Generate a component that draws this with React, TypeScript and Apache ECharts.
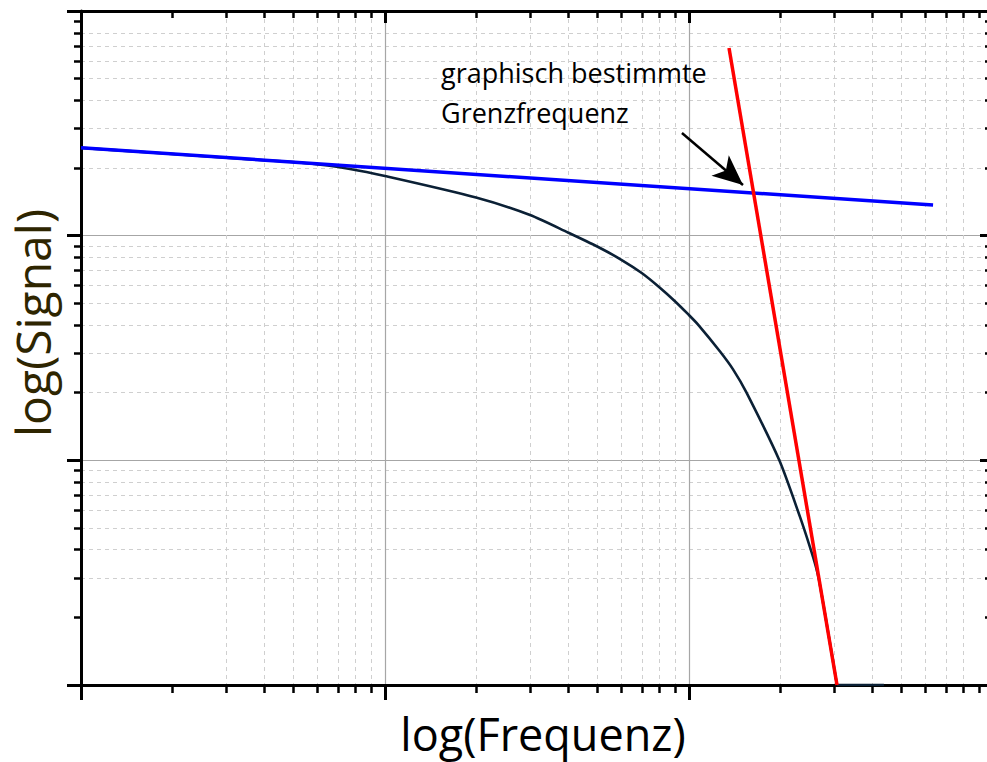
import React, { useEffect, useRef } from "react";
import * as echarts from "echarts";

// Data (log-log)
const curveFreq = [1, 1.69, 3.09, 5.67, 7.67, 10, 19.92, 30, 40, 49.9, 59.9, 69.9, 79.7, 89.7, 99.5, 107.1, 126.5, 139.6, 154.6, 198.2, 231.8, 250, 261.7, 267.7, 282.3, 306.8];
const curveSignal = [246, 234.5, 221.8, 209.5, 198, 184.3, 147.9, 123.6, 103.3, 89.5, 78.1, 68.2, 59.1, 51.2, 44.6, 40.2, 30.5, 25.4, 20, 10, 5.6, 4.11, 3.35, 2.93, 1.95, 1.0];

// part of the curve lying on the lower axis limit
const floorFreq = [306.8, 437.7];
const floorSignal = [1.0, 1.0];

const asymptoteFreq = [1, 635];
const asymptoteSignal = [246, 136.8];

const slopeFreq = [135.4, 306.8];
const slopeSignal = [683.9, 1];

const arrowStart = [94.8, 286.4];
const arrowEnd = [150.5, 168.1];

const annotationLines = ["graphisch bestimmte", "Grenzfrequenz"];
const xTitle = "log(Frequenz)";
const yTitle = "log(Signal)";

const axisMin = 1;
const axisMax = 1000;
const decades = [1, 10, 100];
const minorMultipliers = [2, 3, 4, 5, 6, 7, 8, 9];
const majorTicks = [1, 10, 100, 1000];
const minorTicks = decades.flatMap((d) => minorMultipliers.map((m) => m * d));

const FONT = "'Open Sans', 'Noto Sans', sans-serif";
const CURVE_COLOR = "#0b2035";

function makeAxis(position: string, major: boolean, inside: boolean, len: number, withGrid: boolean) {
  return {
    type: "log",
    logBase: 10,
    min: axisMin,
    max: axisMax,
    position,
    axisLabel: { show: false },
    axisLine: { show: major, onZero: false, lineStyle: { color: "#000", width: 3 } },
    axisTick: {
      show: true,
      inside,
      length: len,
      customValues: major ? majorTicks : minorTicks,
      lineStyle: { color: "#000", width: major ? 3 : 2.5 },
    },
    minorTick: { show: false },
    splitLine: withGrid
      ? {
          show: true,
          showMinLine: false,
          showMaxLine: false,
          lineStyle: major
            ? { color: "#a6a6a6", width: 1.2, type: "solid" }
            : { color: "#cfcfcf", width: 1, type: [4, 4] },
        }
      : { show: false },
  };
}

export default function App() {
  const ref = useRef<HTMLDivElement>(null);
  useEffect(() => {
    if (!ref.current) return;
    const chart = echarts.init(ref.current, null, { renderer: "svg" });
    const zip = (a: number[], b: number[]) => a.map((v, i) => [v, b[i]]);
    const xBottomMajor: any = makeAxis("bottom", true, false, 15, true);
    xBottomMajor.name = xTitle;
    xBottomMajor.nameLocation = "middle";
    xBottomMajor.nameGap = 48;
    xBottomMajor.nameTextStyle = {
      color: "#000",
      fontSize: 45,
      lineHeight: 46,
      fontFamily: FONT,
      verticalAlign: "middle",
      padding: [0, 0, 0, 12],
    };
    chart.setOption({
      animation: false,
      backgroundColor: "#fff",
      grid: { left: 81, top: 11, width: 912, height: 674, containLabel: false, outerBoundsMode: "none" },
      xAxis: [
        xBottomMajor,
        makeAxis("bottom", false, false, 8, true),
        makeAxis("top", true, true, 12, false),
        makeAxis("top", false, true, 7, false),
      ],
      yAxis: [
        makeAxis("left", true, false, 14, true),
        makeAxis("left", false, false, 7, true),
        makeAxis("right", true, true, 13, false),
        makeAxis("right", false, true, 8, false),
      ],
      series: [
        {
          type: "line",
          name: "Signal",
          data: zip(curveFreq, curveSignal),
          showSymbol: false,
          symbol: "none",
          smooth: 0.25,
          lineStyle: { color: CURVE_COLOR, width: 2.6 },
          z: 3,
        },
        {
          type: "line",
          name: "Signal (Grenze)",
          data: zip(floorFreq, floorSignal),
          showSymbol: false,
          symbol: "none",
          lineStyle: { color: CURVE_COLOR, width: 2.6 },
          z: 3,
        },
        {
          type: "line",
          name: "Asymptote",
          data: zip(asymptoteFreq, asymptoteSignal),
          showSymbol: false,
          symbol: "none",
          lineStyle: { color: "#0000ff", width: 3.5 },
          z: 4,
        },
        {
          type: "line",
          name: "Abfall",
          data: zip(slopeFreq, slopeSignal),
          showSymbol: false,
          symbol: "none",
          lineStyle: { color: "#ff0000", width: 3.5 },
          z: 5,
          markLine: {
            silent: true,
            symbol: ["none", "arrow"],
            symbolSize: [20, 30],
            label: { show: false },
            lineStyle: { color: "#000", width: 2.5, type: "solid" },
            emphasis: { disabled: true },
            data: [[{ coord: arrowStart }, { coord: arrowEnd }]],
          },
        },
      ],
      graphic: [
        {
          type: "text",
          x: 441,
          y: 72,
          style: { text: annotationLines[0], fill: "#000", font: `27px ${FONT}`, verticalAlign: "middle", align: "left" },
          z: 10,
        },
        {
          type: "text",
          x: 441,
          y: 112,
          style: { text: annotationLines[1], fill: "#000", font: `27px ${FONT}`, verticalAlign: "middle", align: "left" },
          z: 10,
        },
        {
          type: "text",
          x: 32,
          y: 323,
          rotation: Math.PI / 2,
          style: { text: yTitle, fill: "#2e2500", font: `48px ${FONT}`, verticalAlign: "middle", align: "center" },
          z: 10,
        },
      ],
    });
    return () => chart.dispose();
  }, []);
  return (
    <div
      ref={ref}
      style={{ position: "absolute", left: 0, top: 0, width: 987, height: 762, background: "#fff" }}
    />
  );
}
